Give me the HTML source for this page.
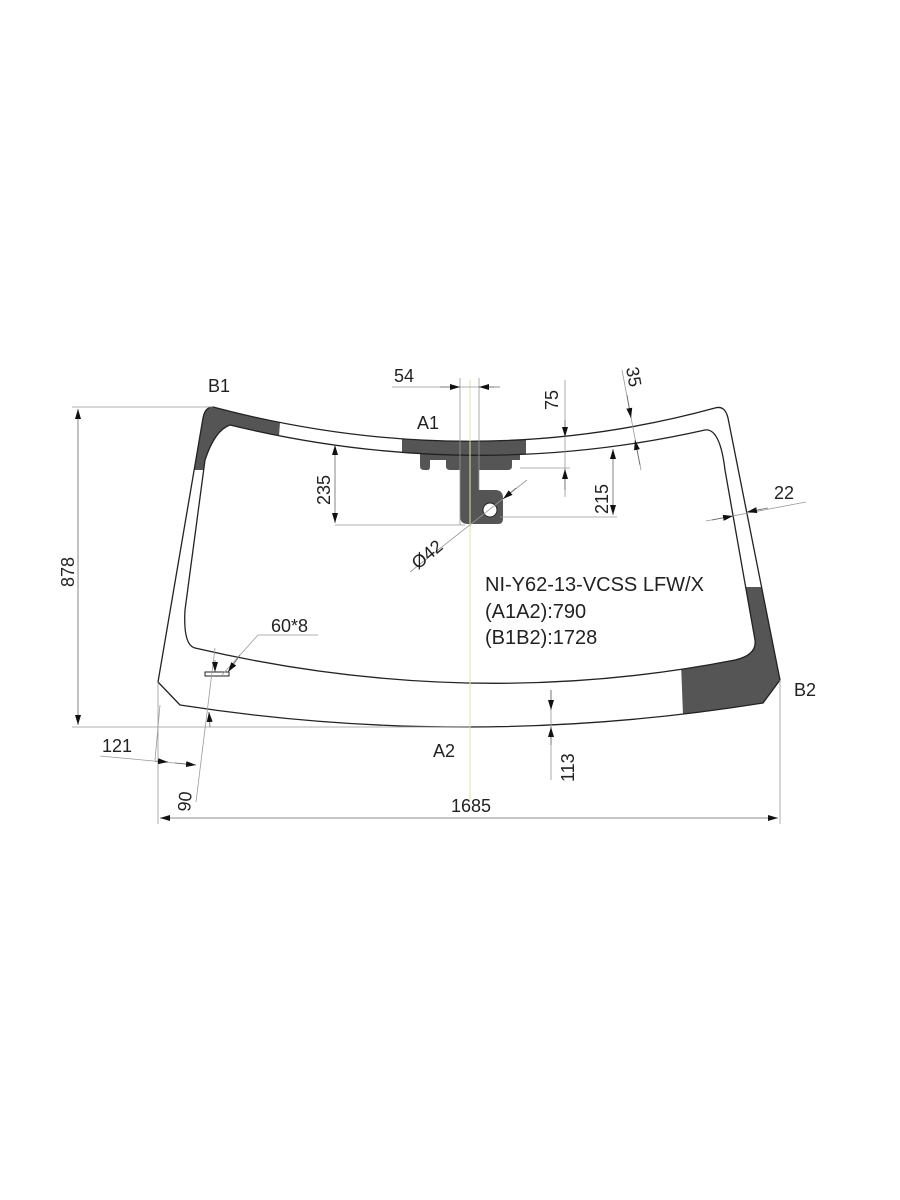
<!DOCTYPE html>
<html><head><meta charset="utf-8"><style>
html,body{margin:0;padding:0;background:#fff}
svg{display:block}
text{font-family:"Liberation Sans",sans-serif;font-size:18px;fill:#222}
.big{font-size:20px}
</style></head><body>
<svg width="900" height="1200" viewBox="0 0 900 1200" xmlns="http://www.w3.org/2000/svg">
<defs>
<marker id="a" viewBox="0 0 10 6" refX="10" refY="3" markerWidth="10" markerHeight="6" orient="auto-start-reverse" markerUnits="userSpaceOnUse"><path d="M0,0 L10,3 L0,6 Z" fill="#111"/></marker>
<clipPath id="cB1"><polygon points="185,395 282,395 278,450 205,470 190,470"/></clipPath>
<clipPath id="cA1"><rect x="402" y="420" width="124" height="60"/></clipPath>
<clipPath id="cB2"><polygon points="678,587 800,587 800,740 684,740"/></clipPath>
<path id="ring" fill-rule="evenodd" d="M213,407 Q205,407 203,418 L158,682 L180,705 Q470,750 763,703 L780,680 L728,418 Q725,405 715,408 Q470,475 213,407 Z M230,425 Q215,430 205,460 L185,610 Q183,645 195,648 Q470,712 735,660 Q757,655 755,640 L725,470 Q720,428 705,430 Q470,483 230,425 Z"/>
</defs>
<g fill="#555">
<use href="#ring" clip-path="url(#cB1)"/>
<use href="#ring" clip-path="url(#cA1)"/>
<use href="#ring" clip-path="url(#cB2)"/>
<path d="M420,452 L420,466 Q420,470 424,470 L428,470 Q430,470 430,466 L430,460 L446,460 L446,466 Q446,470 450,470 L460,470 L460,516 Q460,524 468,524 L498,524 Q503,524 503,519 L503,498 Q503,490 495,490 L479,490 L479,470 L508,470 Q512,470 512,466 L512,460 L520,460 L520,452 Z"/>
</g>
<circle cx="490" cy="510" r="7" fill="#fff" stroke="#222" stroke-width="1"/>
<g fill="none" stroke="#222" stroke-width="1.3">
<path d="M213,407 Q205,407 203,418 L158,682 L180,705 Q470,750 763,703 L780,680 L728,418 Q725,405 715,408 Q470,475 213,407 Z"/>
<path d="M230,425 Q215,430 205,460 L185,610 Q183,645 195,648 Q470,712 735,660 Q757,655 755,640 L725,470 Q720,428 705,430 Q470,483 230,425 Z"/>
</g>
<rect x="205" y="672" width="24" height="4" fill="#fff" stroke="#222" stroke-width="1"/>
<line x1="470" y1="380" x2="470" y2="800" stroke="#dde0b0" stroke-width="1"/>
<g stroke="#999" stroke-width="0.8" fill="none">
<line x1="72" y1="407" x2="213" y2="407"/>
<line x1="72" y1="727" x2="470" y2="727"/>
<line x1="158" y1="682" x2="158" y2="824"/>
<line x1="780" y1="680" x2="780" y2="824"/>
<line x1="460" y1="378" x2="460" y2="525"/>
<line x1="479" y1="378" x2="479" y2="490"/>
<line x1="392" y1="387" x2="494" y2="387"/>
<line x1="565" y1="380" x2="565" y2="497"/>
<line x1="520" y1="468" x2="570" y2="468"/>
<line x1="622" y1="370" x2="641" y2="470"/>
<line x1="335" y1="525" x2="465" y2="525"/>
<line x1="500" y1="517" x2="617" y2="517"/>
<line x1="410" y1="572" x2="527" y2="480"/>
<line x1="706" y1="521" x2="806" y2="502"/>
<line x1="222" y1="675" x2="258" y2="635"/>
<line x1="258" y1="635" x2="318" y2="635"/>
<line x1="100" y1="756" x2="196" y2="765"/>
<line x1="215" y1="648" x2="196" y2="802"/>
<line x1="160" y1="705" x2="155" y2="760"/>
<line x1="551" y1="690" x2="551" y2="780"/>
</g>
<g stroke="#666" stroke-width="0.8" fill="none">
<line x1="78" y1="409" x2="78" y2="725" marker-start="url(#a)" marker-end="url(#a)"/>
<line x1="160" y1="818" x2="778" y2="818" marker-start="url(#a)" marker-end="url(#a)"/>
<line x1="440" y1="387" x2="460" y2="387" marker-end="url(#a)"/>
<line x1="500" y1="387" x2="479" y2="387" marker-end="url(#a)"/>
<line x1="565" y1="420" x2="565" y2="437" marker-end="url(#a)"/>
<line x1="565" y1="490" x2="565" y2="469" marker-end="url(#a)"/>
<line x1="627" y1="395" x2="631" y2="418" marker-end="url(#a)"/>
<line x1="640" y1="465" x2="635" y2="440" marker-end="url(#a)"/>
<line x1="613" y1="449" x2="613" y2="515" marker-start="url(#a)" marker-end="url(#a)"/>
<line x1="335" y1="445" x2="335" y2="523" marker-start="url(#a)" marker-end="url(#a)"/>
<line x1="516" y1="488" x2="503" y2="499" marker-end="url(#a)"/>
<line x1="712" y1="520" x2="733" y2="516" marker-end="url(#a)"/>
<line x1="768" y1="508" x2="747" y2="512" marker-end="url(#a)"/>
<line x1="240" y1="655" x2="228" y2="672" marker-end="url(#a)"/>
<line x1="215" y1="660" x2="215" y2="672" marker-end="url(#a)"/>
<line x1="210" y1="727" x2="209" y2="712" marker-end="url(#a)"/>
<line x1="155" y1="761" x2="168" y2="762" marker-end="url(#a)"/>
<line x1="175" y1="763" x2="196" y2="765" marker-end="url(#a)"/>
<line x1="551" y1="690" x2="551" y2="710" marker-end="url(#a)"/>
<line x1="551" y1="745" x2="551" y2="727" marker-end="url(#a)"/>
</g>
<text x="208" y="392">B1</text>
<text x="417" y="429">A1</text>
<text x="794" y="696">B2</text>
<text x="433" y="757">A2</text>
<text x="394" y="382">54</text>
<text x="451" y="812">1685</text>
<text class="big" x="485" y="591">NI-Y62-13-VCSS LFW/X</text>
<text class="big" x="485" y="618">(A1A2):790</text>
<text class="big" x="485" y="644">(B1B2):1728</text>
<text x="271" y="632">60*8</text>
<text x="102" y="752">121</text>
<text x="774" y="499">22</text>
<text transform="translate(74,587) rotate(-90)">878</text>
<text transform="translate(558,410) rotate(-90)">75</text>
<text transform="translate(626,368) rotate(80)">35</text>
<text transform="translate(608,514) rotate(-90)">215</text>
<text transform="translate(330,505) rotate(-90)">235</text>
<text transform="translate(418,570) rotate(-40)">Ø42</text>
<text transform="translate(190,812) rotate(-85)">90</text>
<text transform="translate(574,782) rotate(-90)">113</text>
</svg>
</body></html>
